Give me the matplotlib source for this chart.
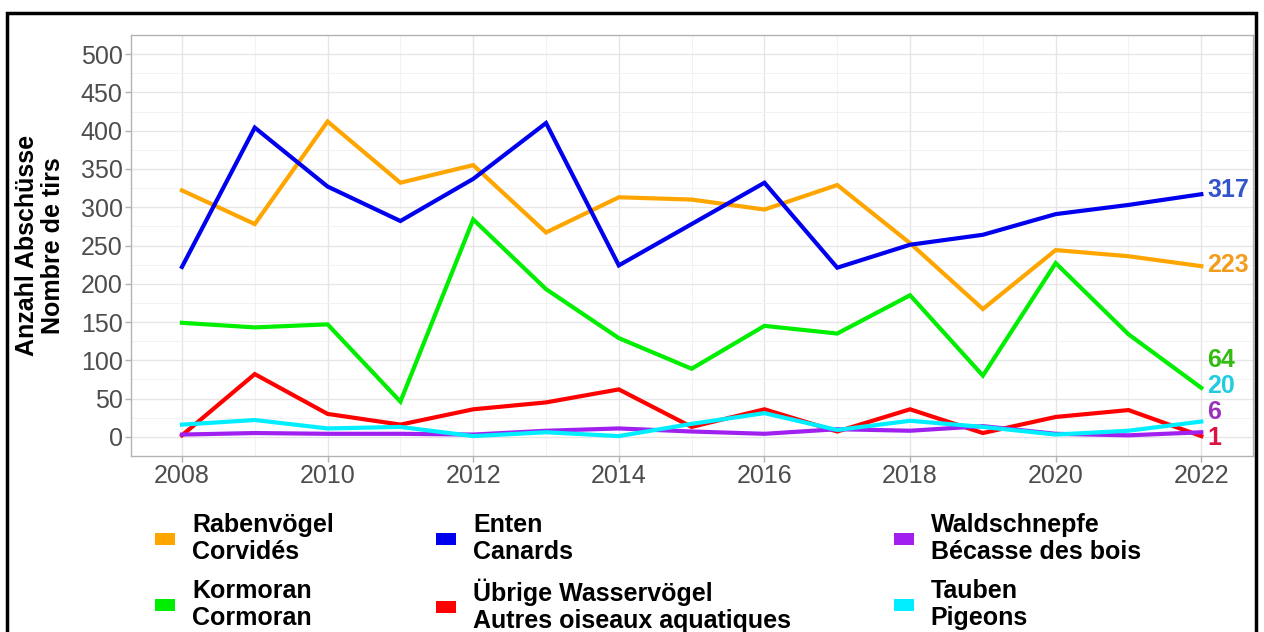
import matplotlib.pyplot as plt
from matplotlib.patches import Patch, Rectangle
from matplotlib.ticker import MultipleLocator

plt.rcParams['font.family'] = ['Liberation Sans', 'DejaVu Sans']

years = list(range(2008, 2023))

rabenvoegel = [322, 278, 412, 332, 355, 267, 313, 310, 297, 329, 253, 167, 244, 236, 223]
enten = [222, 404, 327, 282, 337, 410, 224, 278, 332, 221, 251, 264, 291, 303, 317]
kormoran = [149, 143, 147, 46, 284, 193, 129, 89, 145, 135, 185, 80, 227, 134, 64]
uebrige = [2, 82, 30, 16, 36, 45, 62, 13, 36, 7, 36, 5, 26, 35, 1]
waldschnepfe = [3, 5, 4, 4, 3, 8, 11, 7, 4, 10, 8, 14, 4, 2, 6]
tauben = [16, 22, 11, 13, 1, 6, 1, 17, 31, 9, 21, 13, 3, 8, 20]

names = ["Rabenvögel\nCorvidés", "Enten\nCanards", "Kormoran\nCormoran",
         "Übrige Wasservögel\nAutres oiseaux aquatiques",
         "Waldschnepfe\nBécasse des bois", "Tauben\nPigeons"]
series = [rabenvoegel, enten, kormoran, uebrige, waldschnepfe, tauben]
colors = ["#FFA500", "#0000EE", "#00EE00", "#FF0000", "#A020F0", "#00EEFF"]
label_colors = ["#F39C1E", "#3355CC", "#33BB11", "#DD1144", "#9933BB", "#22CCE0"]
# end label y positions (spread apart so they don't overlap)
label_y = [224, 322, 100, -1, 33, 67]

fs = 18

fig = plt.figure(figsize=(12.64, 6.32), dpi=100)
ax = fig.add_axes([131/1264, 1 - 456/632, (1253-131)/1264, (456-35)/632])

for s, c in zip(series, colors):
    ax.plot(years, s, color=c, lw=3, solid_joinstyle='miter', zorder=3)

for s, ly, c in zip(series, label_y, label_colors):
    ax.text(years[-1] + 0.08, ly, str(s[-1]), color=c, fontsize=fs,
            fontweight='bold', ha='left', va='center')

ax.set_xlim(2007.3, 2022.71)
ax.set_ylim(-25, 525)
ax.xaxis.set_major_locator(MultipleLocator(2))
ax.xaxis.set_minor_locator(MultipleLocator(1))
ax.yaxis.set_major_locator(MultipleLocator(50))
ax.yaxis.set_minor_locator(MultipleLocator(25))
ax.grid(which='major', color='#E6E6E6', lw=1.0)
ax.grid(which='minor', color='#F2F2F2', lw=0.7)
ax.set_axisbelow(True)
ax.tick_params(which='major', labelsize=fs, labelcolor='#4D4D4D', color='#B3B3B3',
               length=4, width=1, pad=2)
ax.tick_params(which='minor', length=0)
for sp in ax.spines.values():
    sp.set_color('#B3B3B3')
    sp.set_linewidth(1)

ax.set_ylabel("Anzahl Abschüsse\nNombre de tirs", fontsize=fs, fontweight='bold',
              labelpad=11, linespacing=1.1)

handles = [Patch(facecolor=c, edgecolor='none') for c in colors]
order = [0, 2, 1, 3, 4, 5]
leg = fig.legend([handles[i] for i in order], [names[i] for i in order],
                 ncol=3, loc='upper left', bbox_to_anchor=(155/1264, 1 - 513/632),
                 frameon=False, prop={'size': fs, 'weight': 'bold'},
                 handlelength=0.8, handleheight=0.36, handletextpad=0.68,
                 columnspacing=4.1, labelspacing=0.6, borderpad=0, borderaxespad=0)
for t in leg.get_texts():
    t.set_linespacing(1.15)

fig.patches.append(Rectangle((7/1264, -0.05), (1256-7)/1264, 1 - 13/632 + 0.05,
                             transform=fig.transFigure, fill=False,
                             edgecolor='black', lw=2.5))

fig.savefig("out.png", dpi=100)
